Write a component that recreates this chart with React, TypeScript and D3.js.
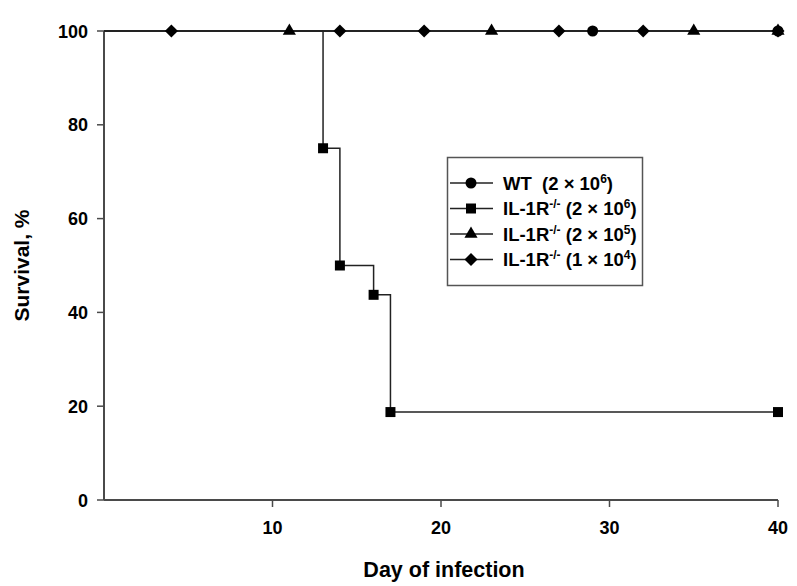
import React, { useEffect, useRef } from 'react';
import * as d3 from 'd3';

// Kaplan-Meier survival steps (day, % surviving)
const wtSteps = [{ day: 0, s: 100 }, { day: 40, s: 100 }];
const ko2e6Steps = [
  { day: 0, s: 100 },
  { day: 13, s: 75 },
  { day: 14, s: 50 },
  { day: 16, s: 43.75 },
  { day: 17, s: 18.75 },
  { day: 40, s: 18.75 },
];
const ko2e5Steps = [{ day: 0, s: 100 }, { day: 40, s: 100 }];
const ko1e4Steps = [{ day: 0, s: 100 }, { day: 40, s: 100 }];

// marker positions (censor / event points)
const wtMarks = [{ day: 29, s: 100 }, { day: 40, s: 100 }];
const ko2e6Marks = ko2e6Steps.slice(1);
const ko2e5Marks = [{ day: 11, s: 100 }, { day: 23, s: 100 }, { day: 35, s: 100 }, { day: 40, s: 100 }];
const ko1e4Marks = [
  { day: 4, s: 100 }, { day: 14, s: 100 }, { day: 19, s: 100 },
  { day: 27, s: 100 }, { day: 32, s: 100 }, { day: 40, s: 100 },
];

const xTicks = [10, 20, 30, 40];
const yTicks = [0, 20, 40, 60, 80, 100];

const legendRows = [
  { name: 'WT', sup: '', gap: '  (2 × 10', exp: '6', shape: 'circle' },
  { name: 'IL-1R', sup: '-/-', gap: ' (2 × 10', exp: '6', shape: 'square' },
  { name: 'IL-1R', sup: '-/-', gap: ' (2 × 10', exp: '5', shape: 'triangle' },
  { name: 'IL-1R', sup: '-/-', gap: ' (1 × 10', exp: '4', shape: 'diamond' },
];

const FONT = 'Arial, "Liberation Sans", sans-serif';

const App = () => {
  const svgRef = useRef<SVGSVGElement | null>(null);

  useEffect(() => {
    if (!svgRef.current) return;
    const svg = d3.select(svgRef.current);
    svg.selectAll('*').remove();

    const x = d3.scaleLinear().domain([0, 40]).range([104, 778]);
    const y = d3.scaleLinear().domain([0, 100]).range([500, 31]);

    const symbolFor = (shape: string) => {
      if (shape === 'circle') return d3.symbol().type(d3.symbolCircle).size(95)();
      if (shape === 'square') return d3.symbol().type(d3.symbolSquare).size(100)();
      if (shape === 'triangle') return d3.symbol().type(d3.symbolTriangle).size(75)();
      return d3.symbol().type(d3.symbolSquare).size(85)();
    };

    // axes
    const axisColor = '#4a4a4a';
    svg.append('line')
      .attr('x1', x(0)).attr('x2', x(40)).attr('y1', y(0)).attr('y2', y(0))
      .attr('stroke', axisColor).attr('stroke-width', 2);
    svg.append('line')
      .attr('x1', x(0)).attr('x2', x(0)).attr('y1', y(0)).attr('y2', y(100))
      .attr('stroke', axisColor).attr('stroke-width', 2);

    svg.selectAll('.xt').data(xTicks).enter().append('line')
      .attr('x1', d => x(d)).attr('x2', d => x(d))
      .attr('y1', y(0)).attr('y2', y(0) + 7)
      .attr('stroke', axisColor).attr('stroke-width', 1.5);
    svg.selectAll('.xl').data(xTicks).enter().append('text')
      .attr('x', d => x(d)).attr('y', 534)
      .attr('text-anchor', 'middle')
      .style('font', `bold 18px ${FONT}`)
      .text(d => d);

    svg.selectAll('.yt').data(yTicks).enter().append('line')
      .attr('x1', x(0) - 7).attr('x2', x(0))
      .attr('y1', d => y(d)).attr('y2', d => y(d))
      .attr('stroke', axisColor).attr('stroke-width', 1.5);
    svg.selectAll('.yl').data(yTicks).enter().append('text')
      .attr('x', 88).attr('y', d => y(d) + 6.5)
      .attr('text-anchor', 'end')
      .style('font', `bold 18px ${FONT}`)
      .text(d => d);

    svg.append('text')
      .attr('x', 444).attr('y', 577)
      .attr('text-anchor', 'middle')
      .style('font', `bold 21.5px ${FONT}`)
      .text('Day of infection');

    svg.append('text')
      .attr('transform', `translate(29,${(y(0) + y(100)) / 2}) rotate(-90)`)
      .attr('text-anchor', 'middle')
      .style('font', `bold 21px ${FONT}`)
      .text('Survival, %');

    // series
    const line = d3.line<{ day: number; s: number }>()
      .x(d => x(d.day)).y(d => y(d.s))
      .curve(d3.curveStepAfter);

    const series = [
      { steps: wtSteps, marks: wtMarks, shape: 'circle' },
      { steps: ko2e6Steps, marks: ko2e6Marks, shape: 'square' },
      { steps: ko2e5Steps, marks: ko2e5Marks, shape: 'triangle' },
      { steps: ko1e4Steps, marks: ko1e4Marks, shape: 'diamond' },
    ];

    series.forEach(sr => {
      svg.append('path')
        .attr('d', line(sr.steps))
        .attr('fill', 'none')
        .attr('stroke', '#222')
        .attr('stroke-width', 1.5);
    });
    series.forEach(sr => {
      svg.selectAll(null).data(sr.marks).enter().append('path')
        .attr('d', symbolFor(sr.shape))
        .attr('transform', d => `translate(${x(d.day)},${y(d.s)})${sr.shape === 'diamond' ? ' rotate(45)' : ''}`)
        .attr('fill', '#000');
    });

    // legend
    const lg = svg.append('g');
    lg.append('rect')
      .attr('x', 447.5).attr('y', 157.5).attr('width', 195).attr('height', 128)
      .attr('fill', '#fff').attr('stroke', '#555').attr('stroke-width', 1.5);
    legendRows.forEach((r, i) => {
      const cy = 183 + i * 25.5;
      lg.append('line')
        .attr('x1', 450).attr('x2', 493).attr('y1', cy).attr('y2', cy)
        .attr('stroke', '#222').attr('stroke-width', 1.5);
      lg.append('path')
        .attr('d', symbolFor(r.shape))
        .attr('transform', `translate(471,${cy})${r.shape === 'diamond' ? ' rotate(45)' : ''}`)
        .attr('fill', '#000');
      const t = lg.append('text')
        .attr('x', 503).attr('y', cy + 6.5)
        .style('font', `bold 18.5px ${FONT}`);
      t.append('tspan').text(r.name);
      if (r.sup) {
        t.append('tspan').attr('dy', -7).style('font-size', '12px').text(r.sup);
        t.append('tspan').attr('dy', 7).text(r.gap);
      } else {
        t.append('tspan').style('white-space', 'pre').text(r.gap);
      }
      t.append('tspan').attr('dy', -7).style('font-size', '12px').text(r.exp);
      t.append('tspan').attr('dy', 7).text(')');
    });
  }, []);

  return (
    <div style={{ position: 'absolute', left: 0, top: 0 }}>
      <svg ref={svgRef} width={797} height={586} style={{ display: 'block', background: '#fff' }} />
    </div>
  );
};

export default App;
